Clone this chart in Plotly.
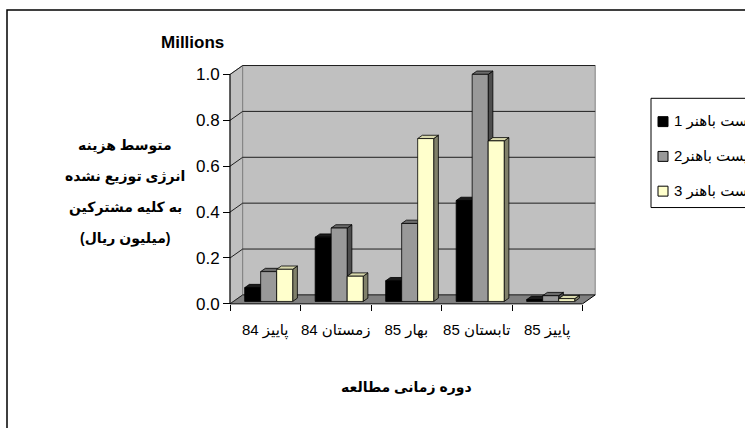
import plotly.graph_objects as go

# ---- data -------------------------------------------------------------
categories = ["پاییز 84", "زمستان 84", "بهار 85", "تابستان 85", "پاییز 85"]
series_names = ["پست باهنر 1", "پست باهنر2", "پست باهنر 3"]
bahonar1 = [0.06, 0.28, 0.09, 0.44, 0.008]
bahonar2 = [0.13, 0.32, 0.34, 0.99, 0.025]
bahonar3 = [0.14, 0.11, 0.71, 0.70, 0.012]
y_ticks = [0.0, 0.2, 0.4, 0.6, 0.8, 1.0]

series_values = [bahonar1, bahonar2, bahonar3]
# (front, side, top) colour of each series' columns
face_colors = [
    ("#000000", "#000000", "#1a1a1a"),
    ("#999999", "#4d4d4d", "#6b6b6b"),
    ("#ffffcc", "#80806a", "#d9d9ad"),
]

FONT = "Arial, Liberation Sans, DejaVu Sans, sans-serif"
W, H = 745, 428

# ---- pseudo-3D box geometry (data units) ------------------------------
DX, DY = 0.18, 0.039      # depth offset of the back wall
BAR_W = 0.227             # column width
FRONT = 0.27              # depth fraction of the column front faces
BAR_D = 0.37              # column depth as a fraction of the box depth
X0, X1 = -0.5, len(categories) - 0.5
TOP = max(y_ticks)

# pixel scale of the axes
XPX, YPX = 70.5, 231.0
AX_LEFT_PX, AX_BOTTOM_PX = 230.0, 306.0
XR = [-0.56, X1 + DX + 0.04]
YR = [-0.03, 1.05]

dom_x = [(AX_LEFT_PX + (XR[0] - X0) * XPX) / W, (AX_LEFT_PX + (XR[1] - X0) * XPX) / W]
dom_y = [1 - (AX_BOTTOM_PX - YR[0] * YPX) / H, 1 - (AX_BOTTOM_PX - YR[1] * YPX) / H]

fig = go.Figure()

# ---- columns: side, top and front faces --------------------------------
fx, fy = FRONT * DX, FRONT * DY
sx, sy = BAR_D * DX, BAR_D * DY
for j, (vals, cols) in enumerate(zip(series_values, face_colors)):
    side_x, side_y, top_x, top_y, front_x, front_y = [], [], [], [], [], []
    for i, v in enumerate(vals):
        left = i + (j - 1.5) * BAR_W + fx
        right = left + BAR_W
        b, t = fy, fy + v
        front_x += [left, right, right, left, left, None]
        front_y += [b, b, t, t, b, None]
        side_x += [right, right + sx, right + sx, right, right, None]
        side_y += [b, b + sy, t + sy, t, b, None]
        top_x += [left, right, right + sx, left + sx, left, None]
        top_y += [t, t, t + sy, t + sy, t, None]
    for xs, ys, c in ((side_x, side_y, cols[1]),
                      (top_x, top_y, cols[2]),
                      (front_x, front_y, cols[0])):
        fig.add_trace(go.Scatter(
            x=xs, y=ys, mode="lines", fill="toself", fillcolor=c,
            line=dict(color="#000000", width=0.8),
            showlegend=False, hoverinfo="skip", name=series_names[j]))

# ---- walls, floor and gridlines ---------------------------------------
GRID = "#1f1f1f"
WALL = "#c0c0c0"
EDGE = "#808080"
shapes = [
    # side wall
    dict(type="path", xref="x", yref="y", layer="below",
         path=f"M {X0},0 L {X0 + DX},{DY} L {X0 + DX},{TOP + DY} L {X0},{TOP} Z",
         fillcolor=WALL, line=dict(color=EDGE, width=1)),
    # back wall
    dict(type="rect", xref="x", yref="y", layer="below",
         x0=X0 + DX, x1=X1 + DX, y0=DY, y1=TOP + DY,
         fillcolor=WALL, line=dict(color=EDGE, width=1)),
    # floor
    dict(type="path", xref="x", yref="y", layer="below",
         path=f"M {X0},0 L {X1},0 L {X1 + DX},{DY} L {X0 + DX},{DY} Z",
         fillcolor="#808080", line=dict(width=0)),
]
for v in y_ticks:
    shapes.append(dict(type="line", xref="x", yref="y", layer="below",
                       x0=X0 + DX, x1=X1 + DX, y0=v + DY, y1=v + DY,
                       line=dict(color=GRID, width=1)))
    shapes.append(dict(type="line", xref="x", yref="y", layer="below",
                       x0=X0, x1=X0 + DX, y0=v, y1=v + DY,
                       line=dict(color=GRID, width=1)))
shapes += [
    # front edge of the floor and its right side
    dict(type="line", xref="x", yref="y", layer="below",
         x0=X0, x1=X1, y0=0, y1=0, line=dict(color="#000000", width=1)),
    dict(type="line", xref="x", yref="y", layer="below",
         x0=X1, x1=X1 + DX, y0=0, y1=DY, line=dict(color="#000000", width=1)),
    # value axis line
    dict(type="line", xref="x", yref="y", layer="below",
         x0=X0, x1=X0, y0=0, y1=TOP, line=dict(color="#000000", width=1)),
    # chart frame
    dict(type="rect", xref="paper", yref="paper",
         x0=7 / W, x1=1.2, y0=-0.2, y1=1 - 10 / H,
         line=dict(color="#000000", width=1.5), fillcolor="rgba(0,0,0,0)"),
    # legend frame
    dict(type="rect", xref="paper", yref="paper",
         x0=651 / W, x1=1.2, y0=1 - 209 / H, y1=1 - 99 / H,
         line=dict(color="#000000", width=1), fillcolor="#ffffff"),
]

# ---- legend (swatch + label per series) --------------------------------
annotations = []
for k, name in enumerate(series_names):
    yc = 122.5 + 35 * k
    shapes.append(dict(type="rect", xref="paper", yref="paper",
                       x0=658 / W, x1=668 / W,
                       y0=1 - (yc + 5) / H, y1=1 - (yc - 5) / H,
                       fillcolor=face_colors[k][0],
                       line=dict(color="#000000", width=1)))
    annotations.append(dict(xref="paper", yref="paper", x=672 / W, y=1 - yc / H,
                            xanchor="left", yanchor="middle", showarrow=False,
                            text=name, font=dict(family=FONT, size=15, color="#000000")))

# ---- titles -------------------------------------------------------------
annotations.append(dict(xref="paper", yref="paper", x=192 / W, y=1 - 43 / H,
                        xanchor="center", yanchor="middle", showarrow=False,
                        text="<b>Millions</b>",
                        font=dict(family=FONT, size=17, color="#000000")))
y_title_lines = ["متوسط هزینه", "انرژی توزیع نشده", "به کلیه مشترکین", "(میلیون ریال)"]
for k, line in enumerate(y_title_lines):
    annotations.append(dict(xref="paper", yref="paper", x=125 / W, y=1 - (147 + 31 * k) / H,
                            xanchor="center", yanchor="middle", showarrow=False,
                            text=f"<b>{line}</b>",
                            font=dict(family=FONT, size=14, color="#000000")))
annotations.append(dict(xref="paper", yref="paper", x=406 / W, y=1 - 390 / H,
                        xanchor="center", yanchor="middle", showarrow=False,
                        text="<b>دوره زمانی مطالعه</b>",
                        font=dict(family=FONT, size=14, color="#000000")))

fig.update_layout(
    width=W, height=H,
    margin=dict(l=0, r=0, t=0, b=0),
    paper_bgcolor="#ffffff", plot_bgcolor="rgba(0,0,0,0)",
    showlegend=False,
    shapes=shapes, annotations=annotations,
    font=dict(family=FONT, color="#000000"),
    xaxis=dict(domain=dom_x, range=XR, anchor="free", position=1 - AX_BOTTOM_PX / H,
               tickmode="array", tickvals=list(range(len(categories))), ticktext=categories,
               ticks="outside", ticklen=12, tickcolor="rgba(0,0,0,0)",
               showgrid=False, zeroline=False, showline=False,
               tickfont=dict(family=FONT, size=15, color="#000000")),
    xaxis2=dict(overlaying="x", range=XR, anchor="free", position=1 - AX_BOTTOM_PX / H,
                tickmode="array", tickvals=[X0 + k for k in range(len(categories) + 1)],
                ticks="outside", ticklen=6, tickcolor="#000000", tickwidth=1,
                showticklabels=False, showgrid=False, zeroline=False, showline=False),
    yaxis=dict(domain=dom_y, range=YR, anchor="free", position=AX_LEFT_PX / W,
               tickmode="array", tickvals=y_ticks, tickformat=".1f",
               ticks="outside", ticklen=7, tickcolor="#000000", tickwidth=1,
               showgrid=False, zeroline=False, showline=False,
               tickfont=dict(family=FONT, size=17, color="#000000")),
)
# keeps the boundary tick axis in the layout
fig.add_trace(go.Scatter(x=[None], y=[None], xaxis="x2", yaxis="y",
                         showlegend=False, hoverinfo="skip"))

fig.write_html("out.html")
